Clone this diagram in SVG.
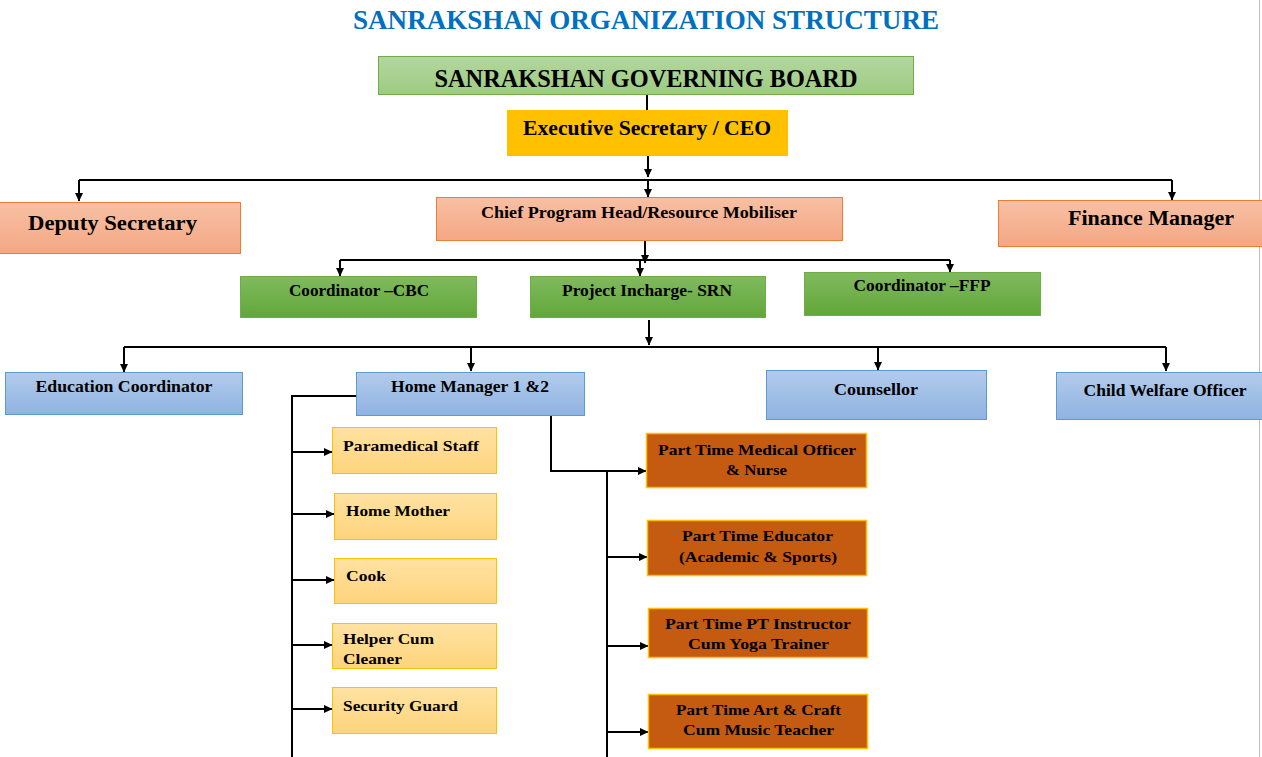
<svg xmlns="http://www.w3.org/2000/svg" width="1262" height="757" viewBox="0 0 1262 757">
<defs>
<linearGradient id="gBoard" x1="0" y1="0" x2="0" y2="1"><stop offset="0" stop-color="#B3D79F"/><stop offset="1" stop-color="#9DCB82"/></linearGradient>
<linearGradient id="gSalmon" x1="0" y1="0" x2="0" y2="1"><stop offset="0" stop-color="#F8C0A4"/><stop offset="1" stop-color="#F4A783"/></linearGradient>
<linearGradient id="gGreen" x1="0" y1="0" x2="0" y2="1"><stop offset="0" stop-color="#80BA5E"/><stop offset="1" stop-color="#62A73A"/></linearGradient>
<linearGradient id="gBlue" x1="0" y1="0" x2="0" y2="1"><stop offset="0" stop-color="#B2CBEB"/><stop offset="1" stop-color="#8FB3E2"/></linearGradient>
<linearGradient id="gYellow" x1="0" y1="0" x2="0" y2="1"><stop offset="0" stop-color="#FFE2A2"/><stop offset="1" stop-color="#FED47C"/></linearGradient>
<marker id="ah" markerWidth="9" markerHeight="9" refX="8" refY="4.5" orient="auto" markerUnits="userSpaceOnUse"><path d="M0,0.5 L8.5,4.5 L0,8.5 Z" fill="#000"/></marker>
</defs>
<style>
text{font-family:"Liberation Serif","DejaVu Serif",serif;font-weight:bold;fill:#000}
.c{text-anchor:middle}
.board{fill:url(#gBoard);stroke:#70AD47;stroke-width:1}
.exec{fill:#FFC000}
.salmon{fill:url(#gSalmon);stroke:#ED7D31;stroke-width:1}
.green{fill:url(#gGreen);stroke:#70AD47;stroke-width:1}
.blue{fill:url(#gBlue);stroke:#5B9BD5;stroke-width:1}
.yellow{fill:url(#gYellow);stroke:#FFC000;stroke-width:1}
.orange{fill:#C55A11;stroke:#FFC000;stroke-width:1.5}
.ln{fill:none;stroke:#000;stroke-width:2}
.ar{fill:none;stroke:#000;stroke-width:2;marker-end:url(#ah)}
.f15{font-size:15.5px}
.f16{font-size:16px}
.f20{font-size:20px}
</style>
<rect width="1262" height="757" fill="#fff"/>
<line x1="1259.5" y1="0" x2="1259.5" y2="757" stroke="#BFBFBF" stroke-width="1"/>
<text x="646" y="29" class="c" style="font-size:28px;fill:#0070C0" textLength="586" lengthAdjust="spacingAndGlyphs">SANRAKSHAN ORGANIZATION STRUCTURE</text>

<g id="connectors">
<line class="ln" x1="647" y1="95" x2="647" y2="110"/>
<line class="ar" x1="648" y1="156" x2="648" y2="177"/>
<line class="ar" x1="648" y1="180" x2="648" y2="197"/>
<polyline class="ln" points="79,180 1172,180"/>
<line class="ar" x1="79" y1="180" x2="79" y2="201"/>
<line class="ar" x1="1172" y1="180" x2="1172" y2="200"/>
<line class="ar" x1="645" y1="241" x2="645" y2="263"/>
<line class="ln" x1="340" y1="260" x2="950" y2="260"/>
<line class="ar" x1="340" y1="260" x2="340" y2="276"/>
<line class="ar" x1="640" y1="260" x2="640" y2="276"/>
<line class="ar" x1="950" y1="260" x2="950" y2="272"/>
<line class="ar" x1="649" y1="320" x2="649" y2="345"/>
<line class="ln" x1="124" y1="347" x2="1166" y2="347"/>
<line class="ar" x1="124" y1="347" x2="124" y2="372"/>
<line class="ar" x1="471" y1="347" x2="471" y2="371"/>
<line class="ar" x1="878" y1="347" x2="878" y2="370"/>
<line class="ar" x1="1166" y1="347" x2="1166" y2="371"/>
<polyline class="ln" points="358,396 292,396 292,757"/>
<line class="ar" x1="292" y1="452" x2="332" y2="452"/>
<line class="ar" x1="292" y1="514" x2="334" y2="514"/>
<line class="ar" x1="292" y1="580" x2="334" y2="580"/>
<line class="ar" x1="292" y1="645" x2="332" y2="645"/>
<line class="ar" x1="292" y1="709" x2="332" y2="709"/>
<polyline class="ar" points="551,416 551,471 646,471"/>
<line class="ln" x1="607" y1="471" x2="607" y2="757"/>
<line class="ar" x1="607" y1="557" x2="647" y2="557"/>
<line class="ar" x1="607" y1="646" x2="648" y2="646"/>
<line class="ar" x1="607" y1="732" x2="648" y2="732"/>
</g>

<g id="board"><rect class="board" x="378.5" y="56.5" width="535" height="38"/><text x="646" y="87" class="c" style="font-size:26px" textLength="423" lengthAdjust="spacingAndGlyphs">SANRAKSHAN GOVERNING BOARD</text></g>
<g id="ceo"><rect class="exec" x="507" y="110" width="281" height="46"/><text x="647" y="135" class="c f20" textLength="248" lengthAdjust="spacingAndGlyphs">Executive Secretary / CEO</text></g>

<g id="deputy"><rect class="salmon" x="-1" y="202.5" width="241.5" height="51"/><text x="28" y="230" class="f20" textLength="169" lengthAdjust="spacingAndGlyphs">Deputy Secretary</text></g>
<g id="chief"><rect class="salmon" x="436.5" y="197.5" width="406" height="43"/><text x="639" y="218" class="c" style="font-size:16.5px" textLength="316" lengthAdjust="spacingAndGlyphs">Chief Program Head/Resource Mobiliser</text></g>
<g id="finance"><rect class="salmon" x="998.5" y="200.5" width="264" height="46"/><text x="1068" y="225" class="f20" textLength="166" lengthAdjust="spacingAndGlyphs">Finance Manager</text></g>

<g id="cbc"><rect class="green" x="240.5" y="276.5" width="236" height="41"/><text x="359" y="296" class="c f16" textLength="140" lengthAdjust="spacingAndGlyphs">Coordinator –CBC</text></g>
<g id="srn"><rect class="green" x="530.5" y="276.5" width="235" height="41"/><text x="647" y="296" class="c f16" textLength="170" lengthAdjust="spacingAndGlyphs">Project Incharge- SRN</text></g>
<g id="ffp"><rect class="green" x="804.5" y="272.5" width="236" height="43"/><text x="922" y="291" class="c f16" textLength="137" lengthAdjust="spacingAndGlyphs">Coordinator –FFP</text></g>

<g id="edu"><rect class="blue" x="5.5" y="372.5" width="237" height="42"/><text x="124" y="392" class="c f16" textLength="177" lengthAdjust="spacingAndGlyphs">Education Coordinator</text></g>
<g id="homemgr"><rect class="blue" x="356.5" y="372.5" width="228" height="43"/><text x="470" y="392" class="c f16" textLength="158" lengthAdjust="spacingAndGlyphs">Home Manager 1 &amp;2</text></g>
<g id="counsellor"><rect class="blue" x="766.5" y="370.5" width="220" height="49"/><text x="876" y="395" class="c f16" textLength="84" lengthAdjust="spacingAndGlyphs">Counsellor</text></g>
<g id="cwo"><rect class="blue" x="1056.5" y="372.5" width="206" height="47"/><text x="1165" y="396" class="c f16" textLength="163" lengthAdjust="spacingAndGlyphs">Child Welfare Officer</text></g>

<g id="paramedical"><rect class="yellow" x="332.5" y="427.5" width="164" height="46"/><text x="343" y="451" class="f15" textLength="136" lengthAdjust="spacingAndGlyphs">Paramedical Staff</text></g>
<g id="homemother"><rect class="yellow" x="334.5" y="493.5" width="162" height="46"/><text x="346" y="516" class="f15" textLength="104" lengthAdjust="spacingAndGlyphs">Home Mother</text></g>
<g id="cook"><rect class="yellow" x="334.5" y="558.5" width="162" height="45"/><text x="346" y="581" class="f15" textLength="40" lengthAdjust="spacingAndGlyphs">Cook</text></g>
<g id="helper"><rect class="yellow" x="332.5" y="623.5" width="164" height="45"/><text x="343" y="644" class="f15" textLength="91" lengthAdjust="spacingAndGlyphs">Helper Cum</text><text x="343" y="664" class="f15" textLength="59" lengthAdjust="spacingAndGlyphs">Cleaner</text></g>
<g id="security"><rect class="yellow" x="332.5" y="687.5" width="164" height="46"/><text x="343" y="711" class="f15" textLength="115" lengthAdjust="spacingAndGlyphs">Security Guard</text></g>

<g id="medical"><rect class="orange" x="646.5" y="433.5" width="220" height="54"/><text x="757" y="455" class="c f15" textLength="198" lengthAdjust="spacingAndGlyphs">Part Time Medical Officer</text><text x="756.5" y="474.5" class="c f15" textLength="61" lengthAdjust="spacingAndGlyphs">&amp; Nurse</text></g>
<g id="educator"><rect class="orange" x="647.5" y="520.5" width="219" height="55"/><text x="757.5" y="541" class="c f15" textLength="151" lengthAdjust="spacingAndGlyphs">Part Time Educator</text><text x="758" y="561.5" class="c f15" textLength="158" lengthAdjust="spacingAndGlyphs">(Academic &amp; Sports)</text></g>
<g id="pt"><rect class="orange" x="648.5" y="608.5" width="219" height="49"/><text x="758" y="629" class="c f15" textLength="186" lengthAdjust="spacingAndGlyphs">Part Time PT Instructor</text><text x="758.5" y="648.5" class="c f15" textLength="141" lengthAdjust="spacingAndGlyphs">Cum Yoga Trainer</text></g>
<g id="art"><rect class="orange" x="648.5" y="694.5" width="219" height="54"/><text x="758.5" y="715" class="c f15" textLength="165" lengthAdjust="spacingAndGlyphs">Part Time Art &amp; Craft</text><text x="758.5" y="734.5" class="c f15" textLength="151" lengthAdjust="spacingAndGlyphs">Cum Music Teacher</text></g>
</svg>
